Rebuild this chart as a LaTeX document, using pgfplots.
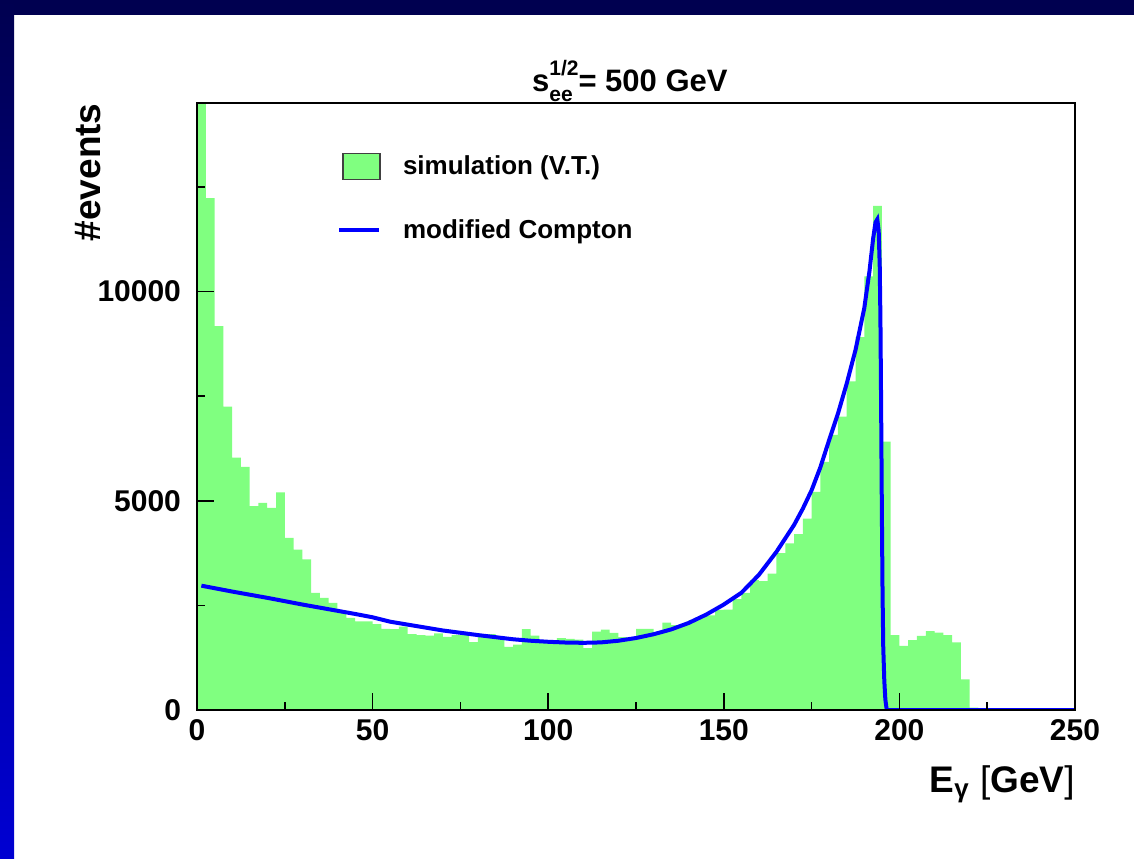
\documentclass[border=0pt]{standalone}
\usepackage{fontspec}
\setmainfont{Liberation Sans}
\usepackage{pgfplots}
\pgfplotsset{compat=1.18}
\definecolor{simgreen}{RGB}{128,255,128}
\definecolor{navy}{RGB}{0,0,80}
\definecolor{brightblue}{RGB}{0,0,210}
\definecolor{comptonblue}{RGB}{0,0,255}

\pgfplotstableread{
x y
0 14800
2.5 12225
5 9170
7.5 7250
10 6030
12.5 5810
15 4870
17.5 4950
20 4830
22.5 5200
25 4110
27.5 3830
30 3600
32.5 2800
35 2680
37.5 2560
40 2370
42.5 2200
45 2120
47.5 2120
50 2050
52.5 1940
55 1930
57.5 1990
60 1810
62.5 1790
65 1775
67.5 1830
70 1745
72.5 1790
75 1790
77.5 1620
80 1810
82.5 1810
85 1700
87.5 1510
90 1560
92.5 1935
95 1780
97.5 1660
100 1650
102.5 1720
105 1700
107.5 1680
110 1480
112.5 1870
115 1920
117.5 1840
120 1740
122.5 1710
125 1940
127.5 1940
130 1820
132.5 2090
135 2030
137.5 2030
140 2150
142.5 2220
145 2260
147.5 2390
150 2400
152.5 2650
155 2800
157.5 3100
160 3080
162.5 3260
165 3750
167.5 3980
170 4200
172.5 4570
175 5210
177.5 5930
180 6570
182.5 7010
185 7850
187.5 8910
190 10360
192.5 12040
195 6410
197.5 1790
200 1530
202.5 1670
205 1770
207.5 1885
210 1850
212.5 1790
215 1615
217.5 730
220 60
222.5 60
}\simdata

\pgfplotstableread{
x y
1.25 2970
5 2910
10 2830
15 2755
20 2680
25 2600
30 2520
35 2445
40 2370
45 2295
50 2215
55 2110
60 2040
65 1970
70 1900
75 1845
80 1790
85 1740
90 1690
95 1655
100 1630
105 1612
110 1605
115 1615
120 1655
125 1720
130 1810
135 1925
140 2080
145 2280
150 2520
155 2800
160 3230
165 3780
170 4420
172.5 4810
175 5250
177.5 5800
180 6450
182.5 7080
185 7800
187.5 8600
190 9600
191.5 10500
192.5 11250
193.2 11650
193.7 11720
194.1 11450
194.4 10600
194.6 9300
194.8 7200
195.0 4800
195.2 2800
195.4 1500
195.7 700
196.0 250
196.4 0
250 0
}\comptondata

\begin{document}
\begin{tikzpicture}
\fill[white] (0,0) rectangle (567pt,-429pt);
\fill[navy] (0,0) rectangle (567pt,-7.5pt);
\shade[top color=navy, bottom color=brightblue] (0,0) rectangle (7pt,-429pt);
\begin{axis}[
  at={(98.5pt,-355pt)}, anchor=south west,
  scale only axis, width=439pt, height=303.5pt,
  xmin=0, xmax=250, ymin=0, ymax=14500,
  scaled x ticks=false, scaled y ticks=false,
  axis on top,
  axis line style={line width=1pt},
  tick align=inside, xtick pos=bottom, ytick pos=left,
  xtick={0,50,100,150,200,250}, xticklabels={0,50,100,150,200,250},
  minor xtick={25,75,125,175,225},
  ytick={0,5000,10000}, yticklabels={0,5000,10000},
  minor ytick={2500,7500,12500},
  major tick length=8.5pt, minor tick length=4pt,
  every tick/.style={black, line width=0.8pt},
  ticklabel style={font=\bfseries\fontsize{15}{18}\selectfont},
  yticklabel style={xshift=-4.5pt},
  xticklabel style={yshift=-1pt},
  xlabel={E\textsubscript{γ} {\mdseries[}GeV{\mdseries]}},
  xlabel style={at={(axis description cs:1,0)}, anchor=base east, inner sep=0pt, yshift=-41pt, font=\bfseries\fontsize{18.5}{22}\selectfont},
  ylabel={\#events},
  ylabel style={at={(axis description cs:-0.124,1)}, anchor=east, inner sep=0pt, font=\bfseries\fontsize{18.5}{22}\selectfont},
  title={s\rlap{\raisebox{-0.33em}{\fontsize{10.5}{11}\selectfont ee}}\raisebox{0.5em}{\fontsize{10.5}{11}\selectfont 1/2}= 500 GeV},
  title style={at={(axis description cs:0.493,1)}, anchor=base, inner sep=0pt, yshift=0pt, font=\bfseries\fontsize{15.5}{18}\selectfont},
  legend style={draw=none, fill=none, at={(axis description cs:0.159,0.921)}, anchor=north west,
     font=\bfseries\fontsize{13}{15}\selectfont, row sep=17pt, inner sep=0pt},
  legend cell align=left,
  /tikz/every odd column/.append style={column sep=9pt},
]
\addplot[const plot, fill=simgreen, draw=none,
  legend image code/.code={\draw[fill=simgreen, draw=black!75, line width=0.6pt] (0pt,-6.5pt) rectangle (18.5pt,6.5pt);}]
  table[x=x, y=y] {\simdata} \closedcycle;
\addlegendentry{simulation (V.T.)}
\addplot[comptonblue, line width=2pt,
  legend image code/.code={\draw[comptonblue, line width=2pt] (-2pt,0pt) -- (18pt,0pt);}]
  table[x=x, y=y] {\comptondata};
\addlegendentry{modified Compton}
\end{axis}
\pgfresetboundingbox
\useasboundingbox (0,0) rectangle (567pt,-429pt);
\end{tikzpicture}
\end{document}
